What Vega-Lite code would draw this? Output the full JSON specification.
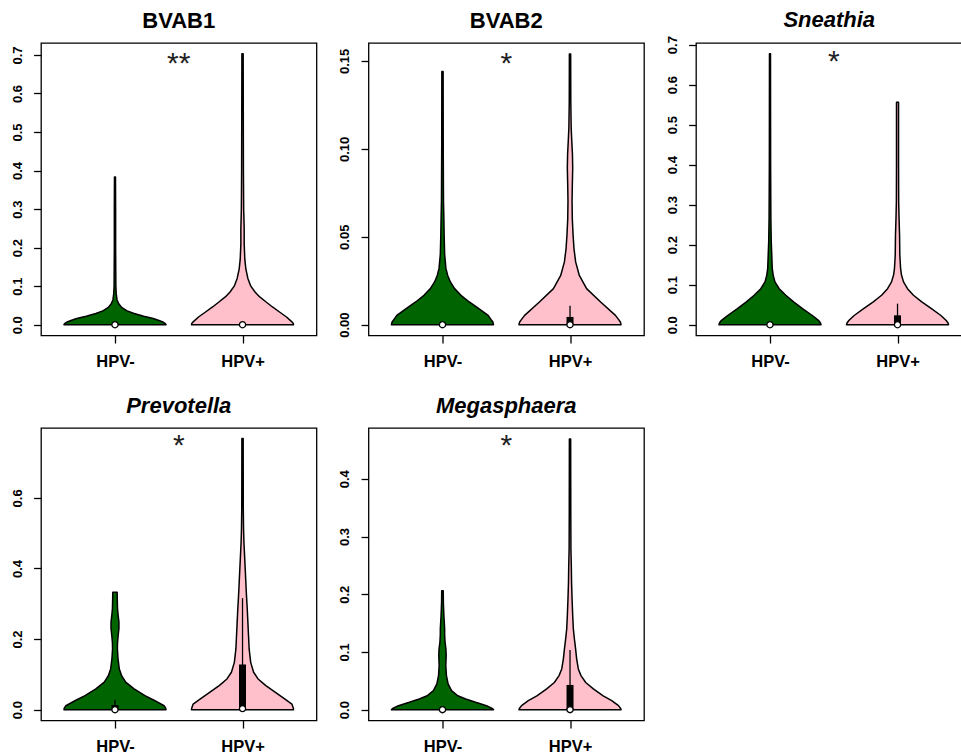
{
"$schema": "https://vega.github.io/schema/vega-lite/v6.json",
"padding": {"left": 10, "top": 8, "right": 0, "bottom": 0},
"autosize": {"type": "pad"},
"background": "white",
"datasets": {
"violin": [
{"p":"BVAB1","g":"HPV-","y":0,"w":0.4},{"p":"BVAB1","g":"HPV-","y":0.003,"w":0.395},{"p":"BVAB1","g":"HPV-","y":0.007,"w":0.375},{"p":"BVAB1","g":"HPV-","y":0.011,"w":0.345},{"p":"BVAB1","g":"HPV-","y":0.016,"w":0.3},{"p":"BVAB1","g":"HPV-","y":0.022,"w":0.225},{"p":"BVAB1","g":"HPV-","y":0.029,"w":0.15},{"p":"BVAB1","g":"HPV-","y":0.036,"w":0.095},{"p":"BVAB1","g":"HPV-","y":0.045,"w":0.052},{"p":"BVAB1","g":"HPV-","y":0.055,"w":0.028},{"p":"BVAB1","g":"HPV-","y":0.065,"w":0.016},{"p":"BVAB1","g":"HPV-","y":0.08,"w":0.01},{"p":"BVAB1","g":"HPV-","y":0.1,"w":0.007},{"p":"BVAB1","g":"HPV-","y":0.2,"w":0.005},{"p":"BVAB1","g":"HPV-","y":0.3,"w":0.005},{"p":"BVAB1","g":"HPV-","y":0.383,"w":0.004},
{"p":"BVAB1","g":"HPV+","y":0,"w":0.4},{"p":"BVAB1","g":"HPV+","y":0.004,"w":0.397},{"p":"BVAB1","g":"HPV+","y":0.008,"w":0.385},{"p":"BVAB1","g":"HPV+","y":0.02,"w":0.345},{"p":"BVAB1","g":"HPV+","y":0.033,"w":0.29},{"p":"BVAB1","g":"HPV+","y":0.046,"w":0.235},{"p":"BVAB1","g":"HPV+","y":0.059,"w":0.185},{"p":"BVAB1","g":"HPV+","y":0.072,"w":0.135},{"p":"BVAB1","g":"HPV+","y":0.085,"w":0.098},{"p":"BVAB1","g":"HPV+","y":0.1,"w":0.065},{"p":"BVAB1","g":"HPV+","y":0.12,"w":0.042},{"p":"BVAB1","g":"HPV+","y":0.145,"w":0.026},{"p":"BVAB1","g":"HPV+","y":0.17,"w":0.018},{"p":"BVAB1","g":"HPV+","y":0.21,"w":0.013},{"p":"BVAB1","g":"HPV+","y":0.25,"w":0.013},{"p":"BVAB1","g":"HPV+","y":0.3,"w":0.009},{"p":"BVAB1","g":"HPV+","y":0.4,"w":0.007},{"p":"BVAB1","g":"HPV+","y":0.55,"w":0.006},{"p":"BVAB1","g":"HPV+","y":0.703,"w":0.005},
{"p":"BVAB2","g":"HPV-","y":0,"w":0.4},{"p":"BVAB2","g":"HPV-","y":0.0015,"w":0.395},{"p":"BVAB2","g":"HPV-","y":0.003,"w":0.38},{"p":"BVAB2","g":"HPV-","y":0.0053,"w":0.358},{"p":"BVAB2","g":"HPV-","y":0.0091,"w":0.285},{"p":"BVAB2","g":"HPV-","y":0.0129,"w":0.21},{"p":"BVAB2","g":"HPV-","y":0.0167,"w":0.145},{"p":"BVAB2","g":"HPV-","y":0.0205,"w":0.095},{"p":"BVAB2","g":"HPV-","y":0.0243,"w":0.062},{"p":"BVAB2","g":"HPV-","y":0.028,"w":0.041},{"p":"BVAB2","g":"HPV-","y":0.032,"w":0.027},{"p":"BVAB2","g":"HPV-","y":0.04,"w":0.017},{"p":"BVAB2","g":"HPV-","y":0.051,"w":0.013},{"p":"BVAB2","g":"HPV-","y":0.06,"w":0.011},{"p":"BVAB2","g":"HPV-","y":0.07,"w":0.008},{"p":"BVAB2","g":"HPV-","y":0.1,"w":0.006},{"p":"BVAB2","g":"HPV-","y":0.144,"w":0.005},
{"p":"BVAB2","g":"HPV+","y":0,"w":0.4},{"p":"BVAB2","g":"HPV+","y":0.0015,"w":0.395},{"p":"BVAB2","g":"HPV+","y":0.003,"w":0.38},{"p":"BVAB2","g":"HPV+","y":0.0053,"w":0.356},{"p":"BVAB2","g":"HPV+","y":0.0129,"w":0.24},{"p":"BVAB2","g":"HPV+","y":0.0205,"w":0.13},{"p":"BVAB2","g":"HPV+","y":0.028,"w":0.073},{"p":"BVAB2","g":"HPV+","y":0.0357,"w":0.044},{"p":"BVAB2","g":"HPV+","y":0.0433,"w":0.031},{"p":"BVAB2","g":"HPV+","y":0.051,"w":0.024},{"p":"BVAB2","g":"HPV+","y":0.06,"w":0.018},{"p":"BVAB2","g":"HPV+","y":0.07,"w":0.016},{"p":"BVAB2","g":"HPV+","y":0.079,"w":0.018},{"p":"BVAB2","g":"HPV+","y":0.089,"w":0.021},{"p":"BVAB2","g":"HPV+","y":0.097,"w":0.019},{"p":"BVAB2","g":"HPV+","y":0.104,"w":0.014},{"p":"BVAB2","g":"HPV+","y":0.112,"w":0.009},{"p":"BVAB2","g":"HPV+","y":0.127,"w":0.006},{"p":"BVAB2","g":"HPV+","y":0.154,"w":0.005},
{"p":"Sneathia","g":"HPV-","y":0,"w":0.4},{"p":"Sneathia","g":"HPV-","y":0.005,"w":0.395},{"p":"Sneathia","g":"HPV-","y":0.011,"w":0.38},{"p":"Sneathia","g":"HPV-","y":0.023,"w":0.332},{"p":"Sneathia","g":"HPV-","y":0.04,"w":0.255},{"p":"Sneathia","g":"HPV-","y":0.057,"w":0.185},{"p":"Sneathia","g":"HPV-","y":0.0735,"w":0.124},{"p":"Sneathia","g":"HPV-","y":0.09,"w":0.072},{"p":"Sneathia","g":"HPV-","y":0.107,"w":0.039},{"p":"Sneathia","g":"HPV-","y":0.124,"w":0.025},{"p":"Sneathia","g":"HPV-","y":0.14,"w":0.018},{"p":"Sneathia","g":"HPV-","y":0.174,"w":0.014},{"p":"Sneathia","g":"HPV-","y":0.207,"w":0.01},{"p":"Sneathia","g":"HPV-","y":0.266,"w":0.007},{"p":"Sneathia","g":"HPV-","y":0.4,"w":0.005},{"p":"Sneathia","g":"HPV-","y":0.677,"w":0.004},
{"p":"Sneathia","g":"HPV+","y":0,"w":0.4},{"p":"Sneathia","g":"HPV+","y":0.005,"w":0.395},{"p":"Sneathia","g":"HPV+","y":0.011,"w":0.38},{"p":"Sneathia","g":"HPV+","y":0.023,"w":0.34},{"p":"Sneathia","g":"HPV+","y":0.04,"w":0.266},{"p":"Sneathia","g":"HPV+","y":0.057,"w":0.19},{"p":"Sneathia","g":"HPV+","y":0.0735,"w":0.125},{"p":"Sneathia","g":"HPV+","y":0.09,"w":0.078},{"p":"Sneathia","g":"HPV+","y":0.107,"w":0.047},{"p":"Sneathia","g":"HPV+","y":0.124,"w":0.031},{"p":"Sneathia","g":"HPV+","y":0.14,"w":0.024},{"p":"Sneathia","g":"HPV+","y":0.174,"w":0.018},{"p":"Sneathia","g":"HPV+","y":0.224,"w":0.016},{"p":"Sneathia","g":"HPV+","y":0.266,"w":0.012},{"p":"Sneathia","g":"HPV+","y":0.307,"w":0.009},{"p":"Sneathia","g":"HPV+","y":0.4,"w":0.008},{"p":"Sneathia","g":"HPV+","y":0.556,"w":0.008},
{"p":"Prevotella","g":"HPV-","y":0,"w":0.4},{"p":"Prevotella","g":"HPV-","y":0.005,"w":0.397},{"p":"Prevotella","g":"HPV-","y":0.011,"w":0.385},{"p":"Prevotella","g":"HPV-","y":0.026,"w":0.31},{"p":"Prevotella","g":"HPV-","y":0.04,"w":0.235},{"p":"Prevotella","g":"HPV-","y":0.059,"w":0.15},{"p":"Prevotella","g":"HPV-","y":0.078,"w":0.084},{"p":"Prevotella","g":"HPV-","y":0.096,"w":0.052},{"p":"Prevotella","g":"HPV-","y":0.115,"w":0.034},{"p":"Prevotella","g":"HPV-","y":0.144,"w":0.024},{"p":"Prevotella","g":"HPV-","y":0.172,"w":0.019},{"p":"Prevotella","g":"HPV-","y":0.19,"w":0.02},{"p":"Prevotella","g":"HPV-","y":0.21,"w":0.025},{"p":"Prevotella","g":"HPV-","y":0.23,"w":0.031},{"p":"Prevotella","g":"HPV-","y":0.248,"w":0.031},{"p":"Prevotella","g":"HPV-","y":0.27,"w":0.024},{"p":"Prevotella","g":"HPV-","y":0.286,"w":0.02},{"p":"Prevotella","g":"HPV-","y":0.314,"w":0.018},{"p":"Prevotella","g":"HPV-","y":0.333,"w":0.017},
{"p":"Prevotella","g":"HPV+","y":0,"w":0.4},{"p":"Prevotella","g":"HPV+","y":0.005,"w":0.398},{"p":"Prevotella","g":"HPV+","y":0.016,"w":0.387},{"p":"Prevotella","g":"HPV+","y":0.03,"w":0.333},{"p":"Prevotella","g":"HPV+","y":0.049,"w":0.258},{"p":"Prevotella","g":"HPV+","y":0.068,"w":0.183},{"p":"Prevotella","g":"HPV+","y":0.087,"w":0.122},{"p":"Prevotella","g":"HPV+","y":0.106,"w":0.087},{"p":"Prevotella","g":"HPV+","y":0.134,"w":0.064},{"p":"Prevotella","g":"HPV+","y":0.172,"w":0.052},{"p":"Prevotella","g":"HPV+","y":0.21,"w":0.047},{"p":"Prevotella","g":"HPV+","y":0.248,"w":0.042},{"p":"Prevotella","g":"HPV+","y":0.286,"w":0.037},{"p":"Prevotella","g":"HPV+","y":0.323,"w":0.031},{"p":"Prevotella","g":"HPV+","y":0.361,"w":0.026},{"p":"Prevotella","g":"HPV+","y":0.4,"w":0.021},{"p":"Prevotella","g":"HPV+","y":0.437,"w":0.016},{"p":"Prevotella","g":"HPV+","y":0.475,"w":0.011},{"p":"Prevotella","g":"HPV+","y":0.513,"w":0.008},{"p":"Prevotella","g":"HPV+","y":0.57,"w":0.006},{"p":"Prevotella","g":"HPV+","y":0.768,"w":0.005},
{"p":"Megasphaera","g":"HPV-","y":0,"w":0.4},{"p":"Megasphaera","g":"HPV-","y":0.002,"w":0.39},{"p":"Megasphaera","g":"HPV-","y":0.0069,"w":0.345},{"p":"Megasphaera","g":"HPV-","y":0.0127,"w":0.26},{"p":"Megasphaera","g":"HPV-","y":0.0185,"w":0.182},{"p":"Megasphaera","g":"HPV-","y":0.024,"w":0.12},{"p":"Megasphaera","g":"HPV-","y":0.033,"w":0.071},{"p":"Megasphaera","g":"HPV-","y":0.0445,"w":0.044},{"p":"Megasphaera","g":"HPV-","y":0.059,"w":0.031},{"p":"Megasphaera","g":"HPV-","y":0.076,"w":0.026},{"p":"Megasphaera","g":"HPV-","y":0.094,"w":0.029},{"p":"Megasphaera","g":"HPV-","y":0.105,"w":0.027},{"p":"Megasphaera","g":"HPV-","y":0.117,"w":0.02},{"p":"Megasphaera","g":"HPV-","y":0.13,"w":0.017},{"p":"Megasphaera","g":"HPV-","y":0.14,"w":0.017},{"p":"Megasphaera","g":"HPV-","y":0.163,"w":0.011},{"p":"Megasphaera","g":"HPV-","y":0.186,"w":0.007},{"p":"Megasphaera","g":"HPV-","y":0.206,"w":0.006},
{"p":"Megasphaera","g":"HPV+","y":0,"w":0.4},{"p":"Megasphaera","g":"HPV+","y":0.002,"w":0.397},{"p":"Megasphaera","g":"HPV+","y":0.0069,"w":0.38},{"p":"Megasphaera","g":"HPV+","y":0.0156,"w":0.327},{"p":"Megasphaera","g":"HPV+","y":0.024,"w":0.26},{"p":"Megasphaera","g":"HPV+","y":0.036,"w":0.183},{"p":"Megasphaera","g":"HPV+","y":0.047,"w":0.123},{"p":"Megasphaera","g":"HPV+","y":0.059,"w":0.086},{"p":"Megasphaera","g":"HPV+","y":0.0705,"w":0.065},{"p":"Megasphaera","g":"HPV+","y":0.088,"w":0.052},{"p":"Megasphaera","g":"HPV+","y":0.105,"w":0.044},{"p":"Megasphaera","g":"HPV+","y":0.123,"w":0.034},{"p":"Megasphaera","g":"HPV+","y":0.14,"w":0.026},{"p":"Megasphaera","g":"HPV+","y":0.163,"w":0.021},{"p":"Megasphaera","g":"HPV+","y":0.192,"w":0.016},{"p":"Megasphaera","g":"HPV+","y":0.221,"w":0.012},{"p":"Megasphaera","g":"HPV+","y":0.25,"w":0.01},{"p":"Megasphaera","g":"HPV+","y":0.279,"w":0.007},{"p":"Megasphaera","g":"HPV+","y":0.336,"w":0.006},{"p":"Megasphaera","g":"HPV+","y":0.469,"w":0.005}
],
"box": [
{"p":"BVAB1","g":"HPV-","med":0,"q1":0,"q3":0,"lo":0,"hi":0},
{"p":"BVAB1","g":"HPV+","med":0,"q1":0,"q3":0,"lo":0,"hi":0},
{"p":"BVAB2","g":"HPV-","med":0,"q1":0,"q3":0,"lo":0,"hi":0},
{"p":"BVAB2","g":"HPV+","med":0,"q1":0,"q3":0.0044,"lo":0,"hi":0.0107},
{"p":"Sneathia","g":"HPV-","med":0,"q1":0,"q3":0,"lo":0,"hi":0},
{"p":"Sneathia","g":"HPV+","med":0,"q1":0,"q3":0.0234,"lo":0,"hi":0.0526},
{"p":"Prevotella","g":"HPV-","med":0,"q1":0,"q3":0.013,"lo":0,"hi":0.028},
{"p":"Prevotella","g":"HPV+","med":0.003,"q1":0,"q3":0.128,"lo":0,"hi":0.316},
{"p":"Megasphaera","g":"HPV-","med":0,"q1":0,"q3":0,"lo":0,"hi":0},
{"p":"Megasphaera","g":"HPV+","med":0,"q1":0,"q3":0.0428,"lo":0,"hi":0.1035}
],
"star": [
{"p":"BVAB1","t":"**","y":0.681},
{"p":"BVAB2","t":"*","y":0.1496},
{"p":"Sneathia","t":"*","y":0.661},
{"p":"Prevotella","t":"*","y":0.7535},
{"p":"Megasphaera","t":"*","y":0.4607}
]
},
"columns": 3,
"bounds": "flush",
"spacing": {"row": 92, "column": 51.5},
"concat": [
{
"width": 275.5, "height": 292.5,
"title": {"text": "BVAB1"},
"layer": [
{"data": {"name": "violin"}, "transform": [{"filter": "datum.p == 'BVAB1'"}, {"calculate": "datum.g == 'HPV-' ? 1 : 2", "as": "pos"}, {"calculate": "datum.pos - datum.w", "as": "lo"}, {"calculate": "datum.pos + datum.w", "as": "hi"}],
"mark": {"type": "area", "stroke": "black", "strokeWidth": 1.5, "strokeJoin": "round", "opacity": 1},
"encoding": {
"x": {"field": "lo", "type": "quantitative", "title": null, "scale": {"domain": [0.42, 2.58], "nice": false, "zero": false}, "axis": {"values": [1, 2], "labelExpr": "datum.value == 1 ? 'HPV-' : 'HPV+'"}},
"x2": {"field": "hi"},
"y": {"field": "y", "type": "quantitative", "title": null, "scale": {"domain": [-0.028, 0.731], "nice": false, "zero": false}, "axis": {"values": [0, 0.1, 0.2, 0.3, 0.4, 0.5, 0.6, 0.7], "format": ".1f"}},
"fill": {"field": "g", "type": "nominal", "scale": {"domain": ["HPV-", "HPV+"], "range": ["#006400", "#FFC0CB"]}, "legend": null}
}},
{"data": {"name": "box"}, "transform": [{"filter": "datum.p == 'BVAB1'"}, {"calculate": "datum.g == 'HPV-' ? 1 : 2", "as": "pos"}],
"mark": {"type": "rule", "color": "black", "strokeWidth": 1.3},
"encoding": {"x": {"field": "pos", "type": "quantitative", "title": null}, "y": {"field": "lo", "type": "quantitative", "title": null}, "y2": {"field": "hi"}}},
{"data": {"name": "box"}, "transform": [{"filter": "datum.p == 'BVAB1'"}, {"calculate": "datum.g == 'HPV-' ? 1 : 2", "as": "pos"}],
"mark": {"type": "rule", "color": "black", "strokeWidth": 7},
"encoding": {"x": {"field": "pos", "type": "quantitative", "title": null}, "y": {"field": "q1", "type": "quantitative", "title": null}, "y2": {"field": "q3"}}},
{"data": {"name": "box"}, "transform": [{"filter": "datum.p == 'BVAB1'"}, {"calculate": "datum.g == 'HPV-' ? 1 : 2", "as": "pos"}],
"mark": {"type": "point", "filled": true, "fill": "white", "stroke": "black", "strokeWidth": 1.3, "size": 38, "opacity": 1},
"encoding": {"x": {"field": "pos", "type": "quantitative", "title": null}, "y": {"field": "med", "type": "quantitative", "title": null}}},
{"data": {"name": "star"}, "transform": [{"filter": "datum.p == 'BVAB1'"}],
"mark": {"type": "text", "font": "Liberation Sans", "fontSize": 30, "color": "#222", "baseline": "alphabetic", "dy": 11},
"encoding": {"x": {"datum": 1.5}, "y": {"field": "y", "type": "quantitative", "title": null}, "text": {"field": "t"}}}
]
},
{
"width": 275.5, "height": 292.5,
"title": {"text": "BVAB2"},
"layer": [
{"data": {"name": "violin"}, "transform": [{"filter": "datum.p == 'BVAB2'"}, {"calculate": "datum.g == 'HPV-' ? 1 : 2", "as": "pos"}, {"calculate": "datum.pos - datum.w", "as": "lo"}, {"calculate": "datum.pos + datum.w", "as": "hi"}],
"mark": {"type": "area", "stroke": "black", "strokeWidth": 1.5, "strokeJoin": "round", "opacity": 1},
"encoding": {
"x": {"field": "lo", "type": "quantitative", "title": null, "scale": {"domain": [0.42, 2.58], "nice": false, "zero": false}, "axis": {"values": [1, 2], "labelExpr": "datum.value == 1 ? 'HPV-' : 'HPV+'"}},
"x2": {"field": "hi"},
"y": {"field": "y", "type": "quantitative", "title": null, "scale": {"domain": [-0.00616, 0.1602], "nice": false, "zero": false}, "axis": {"values": [0, 0.05, 0.1, 0.15], "format": ".2f"}},
"fill": {"field": "g", "type": "nominal", "scale": {"domain": ["HPV-", "HPV+"], "range": ["#006400", "#FFC0CB"]}, "legend": null}
}},
{"data": {"name": "box"}, "transform": [{"filter": "datum.p == 'BVAB2'"}, {"calculate": "datum.g == 'HPV-' ? 1 : 2", "as": "pos"}],
"mark": {"type": "rule", "color": "black", "strokeWidth": 1.3},
"encoding": {"x": {"field": "pos", "type": "quantitative", "title": null}, "y": {"field": "lo", "type": "quantitative", "title": null}, "y2": {"field": "hi"}}},
{"data": {"name": "box"}, "transform": [{"filter": "datum.p == 'BVAB2'"}, {"calculate": "datum.g == 'HPV-' ? 1 : 2", "as": "pos"}],
"mark": {"type": "rule", "color": "black", "strokeWidth": 7},
"encoding": {"x": {"field": "pos", "type": "quantitative", "title": null}, "y": {"field": "q1", "type": "quantitative", "title": null}, "y2": {"field": "q3"}}},
{"data": {"name": "box"}, "transform": [{"filter": "datum.p == 'BVAB2'"}, {"calculate": "datum.g == 'HPV-' ? 1 : 2", "as": "pos"}],
"mark": {"type": "point", "filled": true, "fill": "white", "stroke": "black", "strokeWidth": 1.3, "size": 38, "opacity": 1},
"encoding": {"x": {"field": "pos", "type": "quantitative", "title": null}, "y": {"field": "med", "type": "quantitative", "title": null}}},
{"data": {"name": "star"}, "transform": [{"filter": "datum.p == 'BVAB2'"}],
"mark": {"type": "text", "font": "Liberation Sans", "fontSize": 30, "color": "#222", "baseline": "alphabetic", "dy": 11},
"encoding": {"x": {"datum": 1.5}, "y": {"field": "y", "type": "quantitative", "title": null}, "text": {"field": "t"}}}
]
},
{
"width": 266.5, "height": 292.5,
"title": {"text": "Sneathia", "fontStyle": "italic", "offset": 3.5},
"layer": [
{"data": {"name": "violin"}, "transform": [{"filter": "datum.p == 'Sneathia'"}, {"calculate": "datum.g == 'HPV-' ? 1 : 2", "as": "pos"}, {"calculate": "datum.pos - datum.w", "as": "lo"}, {"calculate": "datum.pos + datum.w", "as": "hi"}],
"mark": {"type": "area", "stroke": "black", "strokeWidth": 1.5, "strokeJoin": "round", "opacity": 1},
"encoding": {
"x": {"field": "lo", "type": "quantitative", "title": null, "scale": {"domain": [0.42, 2.5094], "nice": false, "zero": false}, "axis": {"values": [1, 2], "labelExpr": "datum.value == 1 ? 'HPV-' : 'HPV+'"}},
"x2": {"field": "hi"},
"y": {"field": "y", "type": "quantitative", "title": null, "scale": {"domain": [-0.027, 0.704], "nice": false, "zero": false}, "axis": {"values": [0, 0.1, 0.2, 0.3, 0.4, 0.5, 0.6, 0.7], "format": ".1f"}},
"fill": {"field": "g", "type": "nominal", "scale": {"domain": ["HPV-", "HPV+"], "range": ["#006400", "#FFC0CB"]}, "legend": null}
}},
{"data": {"name": "box"}, "transform": [{"filter": "datum.p == 'Sneathia'"}, {"calculate": "datum.g == 'HPV-' ? 1 : 2", "as": "pos"}],
"mark": {"type": "rule", "color": "black", "strokeWidth": 1.3},
"encoding": {"x": {"field": "pos", "type": "quantitative", "title": null}, "y": {"field": "lo", "type": "quantitative", "title": null}, "y2": {"field": "hi"}}},
{"data": {"name": "box"}, "transform": [{"filter": "datum.p == 'Sneathia'"}, {"calculate": "datum.g == 'HPV-' ? 1 : 2", "as": "pos"}],
"mark": {"type": "rule", "color": "black", "strokeWidth": 7},
"encoding": {"x": {"field": "pos", "type": "quantitative", "title": null}, "y": {"field": "q1", "type": "quantitative", "title": null}, "y2": {"field": "q3"}}},
{"data": {"name": "box"}, "transform": [{"filter": "datum.p == 'Sneathia'"}, {"calculate": "datum.g == 'HPV-' ? 1 : 2", "as": "pos"}],
"mark": {"type": "point", "filled": true, "fill": "white", "stroke": "black", "strokeWidth": 1.3, "size": 38, "opacity": 1},
"encoding": {"x": {"field": "pos", "type": "quantitative", "title": null}, "y": {"field": "med", "type": "quantitative", "title": null}}},
{"data": {"name": "star"}, "transform": [{"filter": "datum.p == 'Sneathia'"}],
"mark": {"type": "text", "font": "Liberation Sans", "fontSize": 30, "color": "#222", "baseline": "alphabetic", "dy": 11},
"encoding": {"x": {"datum": 1.5}, "y": {"field": "y", "type": "quantitative", "title": null}, "text": {"field": "t"}}}
]
},
{
"width": 275.5, "height": 292.5,
"title": {"text": "Prevotella", "fontStyle": "italic"},
"layer": [
{"data": {"name": "violin"}, "transform": [{"filter": "datum.p == 'Prevotella'"}, {"calculate": "datum.g == 'HPV-' ? 1 : 2", "as": "pos"}, {"calculate": "datum.pos - datum.w", "as": "lo"}, {"calculate": "datum.pos + datum.w", "as": "hi"}],
"mark": {"type": "area", "stroke": "black", "strokeWidth": 1.5, "strokeJoin": "round", "opacity": 1},
"encoding": {
"x": {"field": "lo", "type": "quantitative", "title": null, "scale": {"domain": [0.42, 2.58], "nice": false, "zero": false}, "axis": {"values": [1, 2], "labelExpr": "datum.value == 1 ? 'HPV-' : 'HPV+'"}},
"x2": {"field": "hi"},
"y": {"field": "y", "type": "quantitative", "title": null, "scale": {"domain": [-0.0307, 0.798], "nice": false, "zero": false}, "axis": {"values": [0, 0.2, 0.4, 0.6], "format": ".1f"}},
"fill": {"field": "g", "type": "nominal", "scale": {"domain": ["HPV-", "HPV+"], "range": ["#006400", "#FFC0CB"]}, "legend": null}
}},
{"data": {"name": "box"}, "transform": [{"filter": "datum.p == 'Prevotella'"}, {"calculate": "datum.g == 'HPV-' ? 1 : 2", "as": "pos"}],
"mark": {"type": "rule", "color": "black", "strokeWidth": 1.3},
"encoding": {"x": {"field": "pos", "type": "quantitative", "title": null}, "y": {"field": "lo", "type": "quantitative", "title": null}, "y2": {"field": "hi"}}},
{"data": {"name": "box"}, "transform": [{"filter": "datum.p == 'Prevotella'"}, {"calculate": "datum.g == 'HPV-' ? 1 : 2", "as": "pos"}],
"mark": {"type": "rule", "color": "black", "strokeWidth": 7},
"encoding": {"x": {"field": "pos", "type": "quantitative", "title": null}, "y": {"field": "q1", "type": "quantitative", "title": null}, "y2": {"field": "q3"}}},
{"data": {"name": "box"}, "transform": [{"filter": "datum.p == 'Prevotella'"}, {"calculate": "datum.g == 'HPV-' ? 1 : 2", "as": "pos"}],
"mark": {"type": "point", "filled": true, "fill": "white", "stroke": "black", "strokeWidth": 1.3, "size": 38, "opacity": 1},
"encoding": {"x": {"field": "pos", "type": "quantitative", "title": null}, "y": {"field": "med", "type": "quantitative", "title": null}}},
{"data": {"name": "star"}, "transform": [{"filter": "datum.p == 'Prevotella'"}],
"mark": {"type": "text", "font": "Liberation Sans", "fontSize": 30, "color": "#222", "baseline": "alphabetic", "dy": 11},
"encoding": {"x": {"datum": 1.5}, "y": {"field": "y", "type": "quantitative", "title": null}, "text": {"field": "t"}}}
]
},
{
"width": 275.5, "height": 292.5,
"title": {"text": "Megasphaera", "fontStyle": "italic"},
"layer": [
{"data": {"name": "violin"}, "transform": [{"filter": "datum.p == 'Megasphaera'"}, {"calculate": "datum.g == 'HPV-' ? 1 : 2", "as": "pos"}, {"calculate": "datum.pos - datum.w", "as": "lo"}, {"calculate": "datum.pos + datum.w", "as": "hi"}],
"mark": {"type": "area", "stroke": "black", "strokeWidth": 1.5, "strokeJoin": "round", "opacity": 1},
"encoding": {
"x": {"field": "lo", "type": "quantitative", "title": null, "scale": {"domain": [0.42, 2.58], "nice": false, "zero": false}, "axis": {"values": [1, 2], "labelExpr": "datum.value == 1 ? 'HPV-' : 'HPV+'"}},
"x2": {"field": "hi"},
"y": {"field": "y", "type": "quantitative", "title": null, "scale": {"domain": [-0.0188, 0.488], "nice": false, "zero": false}, "axis": {"values": [0, 0.1, 0.2, 0.3, 0.4], "format": ".1f"}},
"fill": {"field": "g", "type": "nominal", "scale": {"domain": ["HPV-", "HPV+"], "range": ["#006400", "#FFC0CB"]}, "legend": null}
}},
{"data": {"name": "box"}, "transform": [{"filter": "datum.p == 'Megasphaera'"}, {"calculate": "datum.g == 'HPV-' ? 1 : 2", "as": "pos"}],
"mark": {"type": "rule", "color": "black", "strokeWidth": 1.3},
"encoding": {"x": {"field": "pos", "type": "quantitative", "title": null}, "y": {"field": "lo", "type": "quantitative", "title": null}, "y2": {"field": "hi"}}},
{"data": {"name": "box"}, "transform": [{"filter": "datum.p == 'Megasphaera'"}, {"calculate": "datum.g == 'HPV-' ? 1 : 2", "as": "pos"}],
"mark": {"type": "rule", "color": "black", "strokeWidth": 7},
"encoding": {"x": {"field": "pos", "type": "quantitative", "title": null}, "y": {"field": "q1", "type": "quantitative", "title": null}, "y2": {"field": "q3"}}},
{"data": {"name": "box"}, "transform": [{"filter": "datum.p == 'Megasphaera'"}, {"calculate": "datum.g == 'HPV-' ? 1 : 2", "as": "pos"}],
"mark": {"type": "point", "filled": true, "fill": "white", "stroke": "black", "strokeWidth": 1.3, "size": 38, "opacity": 1},
"encoding": {"x": {"field": "pos", "type": "quantitative", "title": null}, "y": {"field": "med", "type": "quantitative", "title": null}}},
{"data": {"name": "star"}, "transform": [{"filter": "datum.p == 'Megasphaera'"}],
"mark": {"type": "text", "font": "Liberation Sans", "fontSize": 30, "color": "#222", "baseline": "alphabetic", "dy": 11},
"encoding": {"x": {"datum": 1.5}, "y": {"field": "y", "type": "quantitative", "title": null}, "text": {"field": "t"}}}
]
}
],
"config": {
"view": {"stroke": "black", "strokeWidth": 1.3},
"axis": {"grid": false, "domain": false, "tickColor": "black", "tickWidth": 1.3, "labelColor": "black", "labelFont": "Liberation Sans", "labelFontWeight": "bold", "labelOverlap": false},
"axisX": {"tickSize": 7.5, "labelFontSize": 16.5, "labelPadding": 23, "labelBaseline": "alphabetic", "labelFlush": false},
"axisY": {"tickSize": 7.4, "labelFontSize": 13, "labelAngle": 270, "labelAlign": "center", "labelBaseline": "alphabetic", "labelPadding": 12.3},
"title": {"font": "Liberation Sans", "fontSize": 22, "fontWeight": "bold", "color": "black", "baseline": "alphabetic", "offset": 10, "anchor": "middle", "frame": "group"}
}
}
